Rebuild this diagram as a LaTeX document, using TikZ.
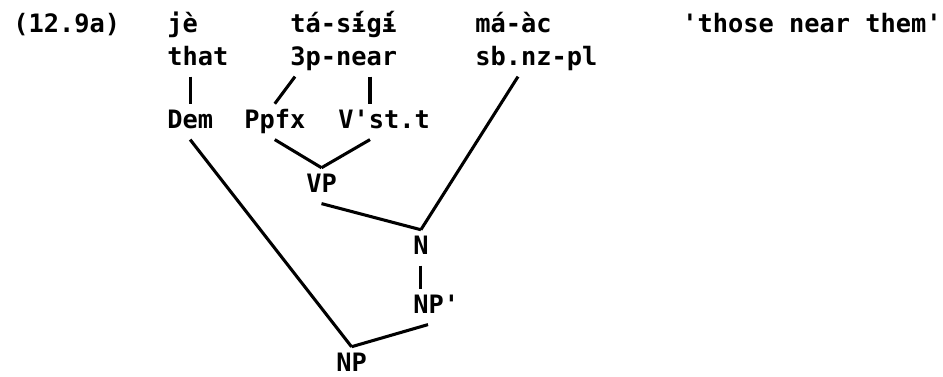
\documentclass[tikz,border=0pt]{standalone}
\usepackage{fontspec}
\newfontfamily\letterfont{DejaVu Sans Mono}
\newcommand{\ibaracute}{\ooalign{ɨ\cr\hidewidth\raisebox{0.5pt}{´}\hidewidth\cr}}
\usetikzlibrary{calc}

\begin{document}
\begin{tikzpicture}[x=0.75pt, y=-0.75pt, font=\letterfont\bfseries\fontsize{19}{22}\selectfont]
  \tikzset{word/.style={anchor=base west, inner xsep=0pt, inner ysep=4pt, text height=14pt, text depth=4.5pt},
           branch/.style={line width=2.3pt}}
  \useasboundingbox (0,0) rectangle (943,376);
  % words and glosses
  \node[word] (ex) at (13,32) {(12.9a)};
  \node[word] (je) at (167,32) {jè};
  \node[word] (tasigi) at (290,32) {tá-s\ibaracute g\ibaracute};
  \node[word] (maac) at (475,32) {má-àc};
  \node[word] (trans) at (682,32) {'those near them'};
  \node[word] (that) at (167,65) {that};
  \node[word] (near) at (290,65) {3p-near};
  \node[word] (sbnz) at (475,65) {sb.nz-pl};
  % tree
  \node[word] (dem) at (167,128) {Dem};
  \node[word] (ppfx) at (244,128) {Ppfx};
  \node[word] (vst) at (338,128) {V'st.t};
  \node[word] (vp) at (306,192) {VP};
  \node[word] (n) at (413,254) {N};
  \node[word] (npp) at (413,313) {NP'};
  \node[word, text depth=0pt] (np) at (336,371) {NP};
  \coordinate (vsttop) at ($(vst.north west)+(32,0)$);
  \coordinate (vstbot) at ($(vst.south west)+(32,0)$);
  \draw[branch] (that.south -| dem.north) -- (dem.north);
  \draw[branch] ($(near.south west)+(5,0)$) -- (ppfx.north);
  \draw[branch] (near.south -| vsttop) -- (vsttop);
  \draw[branch] (ppfx.south) -- (vp.north);
  \draw[branch] (vstbot) -- (vp.north);
  \draw[branch] (vp.south) -- (n.north);
  \draw[branch] ($(sbnz.south west)+(43,0)$) -- (n.north);
  \draw[branch] (n.south) -- (npp.north -| n.south);
  \draw[branch] ($(npp.south west)+(15,0)$) -- (np.north);
  \draw[branch] (dem.south) -- (np.north);
\end{tikzpicture}
\end{document}
